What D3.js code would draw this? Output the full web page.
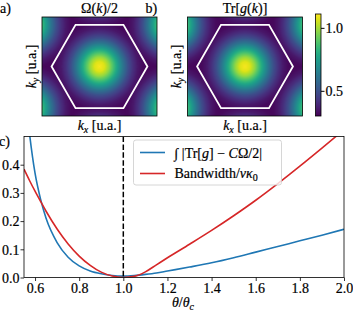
<!DOCTYPE html>
<html>
<head>
  <style>
    body { margin: 0; padding: 0; background: #fff; }
  </style>
</head>
<body>
  <svg id="fig" width="353" height="312"></svg>
  <script src="https://d3js.org/d3.v7.min.js"></script>
  <script>
    // ---- data ----
    var theta = [0.55, 0.575, 0.6, 0.625, 0.65, 0.7, 0.75, 0.8, 0.85, 0.9, 0.95, 1.0, 1.05, 1.1, 1.15, 1.2, 1.3, 1.4, 1.5, 1.6, 1.7, 1.8, 1.9, 2.0];
    var metricDiff = [0.70, 0.51, 0.37, 0.278, 0.21, 0.124, 0.072, 0.041, 0.023, 0.013, 0.007, 0.005, 0.007, 0.011, 0.016, 0.023, 0.037, 0.052, 0.07, 0.09, 0.11, 0.13, 0.15, 0.171];
    var bandwidth = [0.384, 0.344, 0.306, 0.27, 0.235, 0.172, 0.119, 0.076, 0.043, 0.019, 0.005, 0.0, 0.004, 0.02, 0.045, 0.07, 0.118, 0.167, 0.219, 0.274, 0.333, 0.395, 0.459, 0.524];
    var xTicks = [0.6, 0.8, 1.0, 1.2, 1.4, 1.6, 1.8, 2.0];
    var yTicks = [0.0, 0.1, 0.2, 0.3, 0.4];
    var cbTicks = [0.5, 1.0];

    // radial profile of the heatmaps (distance from nearest zone centre, in units of the hexagon radius)
    var profileDist = [0, 0.1, 0.2, 0.3, 0.4, 0.5, 0.6, 0.7, 0.8, 0.9, 1.0];
    var omegaProfile = [1.1, 1.07, 0.98, 0.86, 0.73, 0.6, 0.49, 0.41, 0.35, 0.32, 0.31];
    var trgProfile = [1.1, 1.07, 0.98, 0.86, 0.73, 0.6, 0.49, 0.41, 0.35, 0.32, 0.31];
    // zone centres and hexagon corners (k units)
    var zoneCentres = [[0, 0], [1.5, 0.866], [0, 1.732], [-1.5, 0.866], [-1.5, -0.866], [0, -1.732], [1.5, -0.866]];
    var bzCorners = [[1, 0], [0.5, 0.866], [-0.5, 0.866], [-1, 0], [-0.5, -0.866], [0.5, -0.866]];

    var FONT = "'Liberation Serif', 'DejaVu Serif', serif";
    var FS = "14px";
    var svg = d3.select("#fig");

    function styled(sel) {
      return sel.style("font-family", FONT).style("font-size", FS).attr("fill", "#000")
        .attr("stroke", "#000").attr("stroke-width", 0.2);
    }

    // rich text helper
    function rich(g, x, y, parts, anchor) {
      var t = styled(g.append("text")).attr("x", x).attr("y", y).attr("text-anchor", anchor || "start");
      parts.forEach(function (p) {
        var s = t.append("tspan").text(p.t);
        if (p.i) s.style("font-style", "italic");
        if (p.sub) s.attr("dy", 3).style("font-size", "10px");
        if (p.back) s.attr("dy", -3);
      });
      return t;
    }

    // ---- heatmaps ----
    var color = d3.scaleSequential(d3.interpolateViridis).domain([0.3, 1.11]);

    function heatmap(x0, profile, title, label) {
      var x1 = x0 + 115, y0 = 17, y1 = 116;
      var kx = d3.scaleLinear().domain([-1.2, 1.2]).range([x0, x1]);
      var ky = d3.scaleLinear().domain([-1.03, 1.03]).range([y1, y0]);
      var prof = d3.scaleLinear().domain(profileDist).range(profile).clamp(true);
      var W = Math.round(x1 - x0), H = Math.round(y1 - y0);
      var cv = document.createElement("canvas");
      cv.width = W; cv.height = H;
      var ctx = cv.getContext("2d");
      var img = ctx.createImageData(W, H);
      for (var j = 0; j < H; j++) {
        for (var i = 0; i < W; i++) {
          var px = kx.invert(x0 + i + 0.5), py = ky.invert(y0 + j + 0.5);
          var d = d3.min(zoneCentres, function (c) { return Math.hypot(px - c[0], py - c[1]); });
          var c = d3.rgb(color(prof(d)));
          var k = 4 * (j * W + i);
          img.data[k] = c.r; img.data[k + 1] = c.g; img.data[k + 2] = c.b; img.data[k + 3] = 255;
        }
      }
      ctx.putImageData(img, 0, 0);
      svg.append("image").attr("href", cv.toDataURL())
        .attr("x", x0).attr("y", y0).attr("width", W).attr("height", H)
        .attr("preserveAspectRatio", "none");

      svg.append("path")
        .attr("d", d3.line().x(function (p) { return kx(p[0]); }).y(function (p) { return ky(p[1]); })(bzCorners) + "Z")
        .attr("fill", "none").attr("stroke", "#fff").attr("stroke-width", 1.8);

      svg.append("rect").attr("x", x0).attr("y", y0).attr("width", W).attr("height", H)
        .attr("fill", "none").attr("stroke", "#000").attr("stroke-width", 0.8);

      rich(svg, (x0 + x1) / 2, 13, title, "middle");
      rich(svg, (x0 + x1) / 2, 130, [{ t: "k", i: 1 }, { t: "x", i: 1, sub: 1 }, { t: " [u.a.]", back: 1 }], "middle");
      var yl = svg.append("g").attr("transform", "translate(" + (x0 - 6.5) + "," + ((y0 + y1) / 2) + ") rotate(-90)");
      rich(yl, 0, 0, [{ t: "k", i: 1 }, { t: "y", i: 1, sub: 1 }, { t: " [u.a.]", back: 1 }], "middle");
      rich(svg, x0 - 42, 12.5, [{ t: label }]);
    }

    heatmap(42, omegaProfile, [{ t: "Ω(" }, { t: "k", i: 1 }, { t: ")/2" }], "a)");
    heatmap(187.5, trgProfile, [{ t: "Tr[" }, { t: "g", i: 1 }, { t: "(" }, { t: "k", i: 1 }, { t: ")]" }], "b)");

    // colorbar
    var cbY = d3.scaleLinear().domain([0.3, 1.11]).range([116, 14]);
    var grad = svg.append("defs").append("linearGradient").attr("id", "cb")
      .attr("x1", 0).attr("y1", 1).attr("x2", 0).attr("y2", 0);
    d3.range(0, 1.0001, 0.05).forEach(function (f) {
      grad.append("stop").attr("offset", f).attr("stop-color", d3.interpolateViridis(f));
    });
    svg.append("rect").attr("x", 315.5).attr("y", 14).attr("width", 5.5).attr("height", 102)
      .attr("fill", "url(#cb)").attr("stroke", "#000").attr("stroke-width", 0.8);
    var cbAxis = svg.append("g").attr("transform", "translate(321,0)")
      .call(d3.axisRight(cbY).tickValues(cbTicks).tickFormat(d3.format(".1f")).tickSize(3.5).tickSizeOuter(0));
    cbAxis.select(".domain").remove();
    styled(cbAxis.selectAll("text")).attr("x", 4.5);

    // ---- panel c ----
    var L = 24, R = 344, T = 136.5, B = 277.5;
    var x = d3.scaleLinear().domain([0.55, 2.0]).range([L, R]);
    var y = d3.scaleLinear().domain([0, 0.5]).range([B, T]);

    svg.append("clipPath").attr("id", "clipc").append("rect")
      .attr("x", L).attr("y", T).attr("width", R - L).attr("height", B - T);

    var gx = svg.append("g").attr("transform", "translate(0," + B + ")")
      .call(d3.axisBottom(x).tickValues(xTicks).tickFormat(d3.format(".1f")).tickSize(3.5).tickSizeOuter(0));
    var gy = svg.append("g").attr("transform", "translate(" + L + ",0)")
      .call(d3.axisLeft(y).tickValues(yTicks).tickFormat(d3.format(".1f")).tickSize(3.5).tickSizeOuter(0));
    [gx, gy].forEach(function (g) {
      g.select(".domain").remove();
      g.selectAll("line").attr("stroke-width", 0.8);
      styled(g.selectAll("text"));
    });
    gx.selectAll("text").attr("y", 5.5).attr("dy", "0.71em");
    gy.selectAll("text").attr("x", -4.5).attr("dy", "0.34em");

    var line = function (vals) {
      return d3.line().curve(d3.curveMonotoneX)
        .x(function (d, i) { return x(theta[i]); })
        .y(function (d) { return y(d); })(vals);
    };
    var plot = svg.append("g").attr("clip-path", "url(#clipc)");
    plot.append("path").attr("d", line(metricDiff)).attr("fill", "none").attr("stroke", "#1f77b4").attr("stroke-width", 1.6);
    plot.append("path").attr("d", line(bandwidth)).attr("fill", "none").attr("stroke", "#d62728").attr("stroke-width", 1.6);
    plot.append("line").attr("x1", x(1.0)).attr("x2", x(1.0)).attr("y1", T).attr("y2", B)
      .attr("stroke", "#000").attr("stroke-width", 1.5).attr("stroke-dasharray", "5.5,2.4");

    svg.append("rect").attr("x", L).attr("y", T).attr("width", R - L).attr("height", B - T)
      .attr("fill", "none").attr("stroke", "#000").attr("stroke-width", 0.8);

    // legend
    var lg = svg.append("g");
    lg.append("rect").attr("x", 133.5).attr("y", 140).attr("width", 148).attr("height", 45).attr("rx", 2.5)
      .attr("fill", "#fff").attr("fill-opacity", 0.8).attr("stroke", "#ccc").attr("stroke-width", 0.8);
    lg.append("line").attr("x1", 140).attr("x2", 165).attr("y1", 152.5).attr("y2", 152.5).attr("stroke", "#1f77b4").attr("stroke-width", 1.6);
    lg.append("line").attr("x1", 140).attr("x2", 165).attr("y1", 173.5).attr("y2", 173.5).attr("stroke", "#d62728").attr("stroke-width", 1.6);
    rich(lg, 174.5, 157.5, [{ t: "∫ |Tr[" }, { t: "g", i: 1 }, { t: "] − " }, { t: "C", i: 1 }, { t: "Ω/2|" }]);
    rich(lg, 174.5, 178, [{ t: "Bandwidth/" }, { t: "vκ", i: 1 }, { t: "0", sub: 1 }]);

    rich(svg, 183, 307, [{ t: "θ", i: 1 }, { t: "/" }, { t: "θ", i: 1 }, { t: "c", i: 1, sub: 1 }], "middle");
    rich(svg, -1, 146, [{ t: "c)" }]);
  </script>
</body>
</html>
